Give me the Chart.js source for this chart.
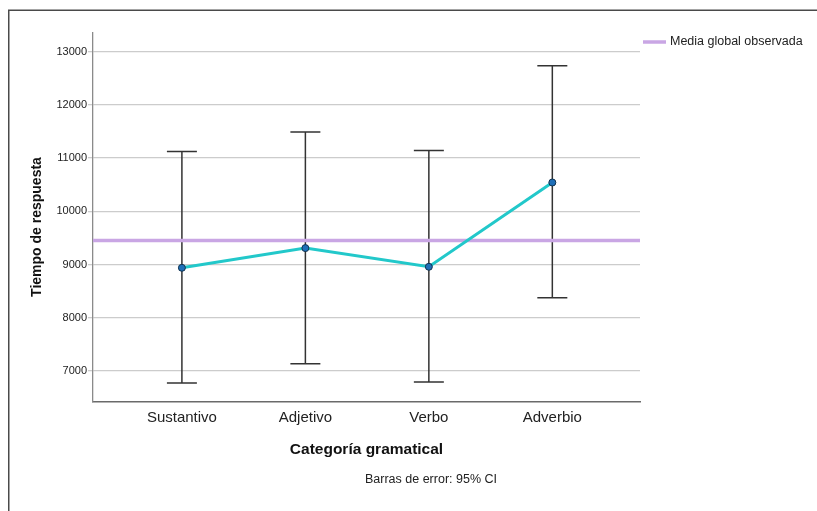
<!DOCTYPE html>
<html>
<head>
<meta charset="utf-8">
<script src="https://cdn.jsdelivr.net/npm/chart.js@4.4.1/dist/chart.umd.min.js"></script>
<style>
  body { margin: 0; background: #fff; }
  canvas { display: block; }
</style>
</head>
<body>
<canvas id="myChart" width="817" height="511"></canvas>
<script>
// data
let categories = ["Sustantivo", "Adjetivo", "Verbo", "Adverbio"];
let means = [8938, 9308, 8957, 10540];
let ciLow = [6775, 7135, 6795, 8375];
let ciHigh = [11120, 11490, 11140, 12730];
let globalMean = 9450;
let yTicks = [7000, 8000, 9000, 10000, 11000, 12000, 13000];

let xMin = -0.72, xMax = 3.71;
let yMin = 6418, yMax = 13347;
let fontFamily = "'Liberation Sans', Arial, sans-serif";

// error bars + frame + extra texts
let extrasPlugin = {
    id: "extras",
    beforeDatasetsDraw: (chart) => {
        let ctx = chart.ctx;
        let xs = chart.scales.x, ys = chart.scales.y;
        ctx.save();
        ctx.strokeStyle = "#333333";
        ctx.lineWidth = 1.5;
        categories.forEach((c, i) => {
            let px = xs.getPixelForValue(i);
            let top = ys.getPixelForValue(ciHigh[i]);
            let bot = ys.getPixelForValue(ciLow[i]);
            ctx.beginPath();
            ctx.moveTo(px, top);
            ctx.lineTo(px, bot);
            ctx.moveTo(px - 15, top);
            ctx.lineTo(px + 15, top);
            ctx.moveTo(px - 15, bot);
            ctx.lineTo(px + 15, bot);
            ctx.stroke();
        });
        ctx.restore();
    },
    afterDraw: (chart) => {
        let ctx = chart.ctx;
        ctx.save();
        // outer frame
        ctx.strokeStyle = "#4a4a4a";
        ctx.lineWidth = 1.5;
        ctx.beginPath();
        ctx.moveTo(8.75, 511);
        ctx.lineTo(8.75, 10.25);
        ctx.lineTo(817, 10.25);
        ctx.stroke();

        // legend
        ctx.strokeStyle = "#c9a6e4";
        ctx.lineWidth = 3.5;
        ctx.beginPath();
        ctx.moveTo(643, 42);
        ctx.lineTo(666, 42);
        ctx.stroke();
        ctx.fillStyle = "#222222";
        ctx.font = "12.5px " + fontFamily;
        ctx.textAlign = "left";
        ctx.textBaseline = "middle";
        ctx.fillText("Media global observada", 670, 42);

        // footnote
        ctx.textAlign = "center";
        ctx.fillText("Barras de error: 95% CI", 431, 480);

        // y title
        ctx.fillStyle = "#111111";
        ctx.font = "bold 14px " + fontFamily;
        ctx.translate(37, 227);
        ctx.rotate(-Math.PI / 2);
        ctx.fillText("Tiempo de respuesta", 0, 0);
        ctx.restore();
    },
};

let drawChart = () => {
    let ctx = document.getElementById("myChart").getContext("2d");
    return new Chart(ctx, {
        type: "line",
        data: {
            datasets: [
                {
                    label: "Media",
                    data: means.map((v, i) => ({ x: i, y: v })),
                    borderColor: "#22c8ca",
                    borderWidth: 3,
                    pointRadius: 3.5,
                    pointBackgroundColor: "#1f6fb8",
                    pointBorderColor: "#10324f",
                    pointBorderWidth: 1,
                    order: 1,
                },
                {
                    label: "Media global observada",
                    data: [
                        { x: xMin, y: globalMean },
                        { x: xMax, y: globalMean },
                    ],
                    borderColor: "#c9a6e4",
                    borderWidth: 3.5,
                    pointRadius: 0,
                    order: 2,
                },
            ],
        },
        options: {
            responsive: false,
            animation: false,
            layout: { padding: { top: 33, right: 177, left: 0, bottom: 0 } },
            plugins: {
                legend: { display: false },
                tooltip: { enabled: false },
            },
            scales: {
                x: {
                    type: "linear",
                    min: xMin,
                    max: xMax,
                    afterFit: (scale) => {
                        scale.height = 109;
                    },
                    grid: { display: false, drawTicks: false },
                    border: { display: true, color: "#6a6a6a", width: 1.5 },
                    ticks: {
                        stepSize: 1,
                        includeBounds: false,
                        padding: 7,
                        color: "#222222",
                        font: { family: fontFamily, size: 15 },
                        callback: (v) => categories[v] ?? "",
                    },
                    title: {
                        display: true,
                        text: "Categoría gramatical",
                        color: "#111111",
                        font: { family: fontFamily, size: 15.5, weight: "bold" },
                        padding: { top: 4, bottom: 52 },
                    },
                },
                y: {
                    type: "linear",
                    min: yMin,
                    max: yMax,
                    afterFit: (scale) => {
                        scale.width = 93;
                    },
                    afterBuildTicks: (scale) => {
                        scale.ticks = yTicks.map((v) => ({ value: v }));
                    },
                    grid: { color: "#cccccc", lineWidth: 1.3, tickLength: 5 },
                    border: { display: true, color: "#8a8a8a", width: 1.3 },
                    ticks: {
                        padding: 1,
                        color: "#222222",
                        font: { family: fontFamily, size: 11 },
                        callback: (v) => String(v),
                    },
                },
            },
        },
        plugins: [extrasPlugin],
    });
};
drawChart();
</script>
</body>
</html>
